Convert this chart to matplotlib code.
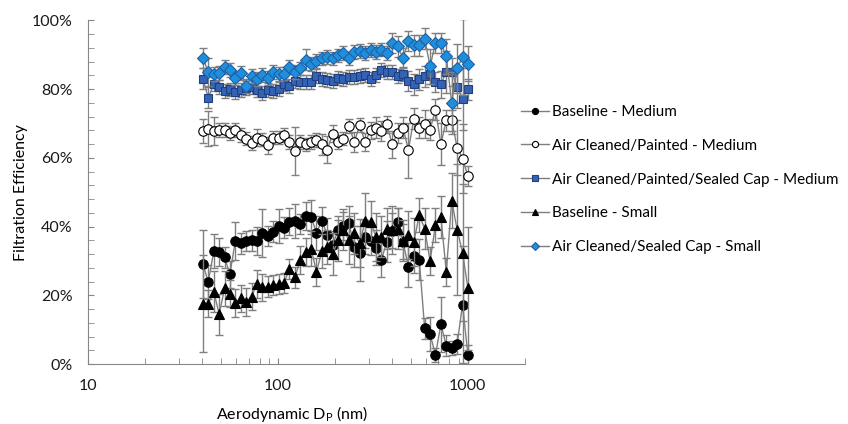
# filtration efficiency vs aerodynamic diameter, 5 test conditions

import matplotlib
matplotlib.use('Agg')
import matplotlib.pyplot as plt
from matplotlib.ticker import FixedLocator, FuncFormatter, MultipleLocator, NullFormatter

plt.rcParams['font.family'] = ['Lato', 'DejaVu Sans']

# particle size bins (nm)
dp = [40.2, 42.9, 45.9, 49.0, 52.3, 55.8, 59.6, 63.7, 68.0, 72.6,
      77.5, 82.8, 88.4, 94.4, 100.8, 107.6, 114.9, 122.7, 131.0, 139.9,
      149.4, 159.5, 170.3, 181.9, 194.2, 207.4, 221.4, 236.5, 252.5, 269.6,
      287.9, 307.4, 328.3, 350.5, 374.3, 399.7, 426.8, 455.8, 486.7, 519.7,
      555.0, 592.6, 632.8, 675.8, 721.6, 770.6, 822.9, 878.7, 938.4, 1002.0]

# efficiencies (%) and error bar half widths (%)
base_med = [29.1, 23.9, 32.8, 32.6, 31.0, 26.1, 35.8, 35.1, 35.8, 36.0,
            35.8, 38.2, 37.3, 38.5, 40.1, 39.7, 41.4, 41.7, 40.7, 43.0,
            42.8, 38.2, 41.7, 37.5, 34.6, 39.0, 40.1, 40.9, 34.1, 32.2,
            37.0, 35.8, 33.9, 30.2, 35.6, 38.8, 41.4, 35.6, 28.3, 31.4,
            30.4, 10.4, 8.7, 2.6, 11.6, 5.3, 4.6, 5.8, 17.2, 2.6]
base_med_err = [10, 5, 5, 4, 3, 4, 5.5, 3, 3, 3,
                4, 7, 3, 3, 5, 3, 4, 5, 3, 4,
                5, 5, 4, 5, 4, 4, 4, 5, 6, 8,
                5, 4, 5, 5, 6, 5, 4, 5, 6, 5,
                6, 3, 5, 2, 8, 3, 2, 3, 17, 3]

painted_med = [67.8, 68.5, 67.8, 68.2, 68.2, 67.2, 68.2, 66.6, 65.6, 64.3,
               65.8, 65.3, 63.7, 65.9, 65.9, 66.6, 64.6, 61.9, 64.6, 63.9,
               64.6, 65.1, 63.9, 62.4, 67.0, 64.6, 65.6, 69.2, 64.6, 69.5,
               64.6, 68.0, 68.8, 67.8, 69.8, 63.9, 67.2, 68.8, 62.2, 71.4,
               68.8, 69.9, 68.2, 74.0, 64.0, 70.9, 70.9, 63.0, 59.8, 54.7]
painted_med_err = [3.5, 5, 4, 2, 2, 2, 2, 2, 2, 2,
                   2.5, 2, 2.5, 2, 2, 2, 2, 7, 2, 2,
                   2, 2, 3, 4, 2.5, 2, 2, 2, 3, 2,
                   2.5, 2.5, 3, 3, 2.5, 4, 3, 3, 8, 3,
                   3, 4, 3, 3, 6, 3, 3, 8, 10, 3]

sealed_med = [83.0, 77.5, 81.5, 80.6, 79.4, 79.9, 79.1, 79.7, 80.3, 80.6,
              79.7, 78.9, 79.7, 79.4, 80.1, 81.4, 80.8, 82.3, 82.1, 82.1,
              82.1, 83.7, 83.0, 82.6, 82.3, 83.3, 83.0, 83.5, 83.5, 83.7,
              84.0, 83.0, 84.0, 85.6, 85.0, 85.0, 83.7, 84.3, 82.3, 81.4,
              82.8, 83.7, 84.5, 82.1, 81.4, 85.0, 85.0, 80.6, 77.2, 79.9]
sealed_med_err = [3, 3, 2, 2, 2, 2, 2, 2, 2, 2,
                  2, 2, 2, 2, 2, 2, 2, 2, 2, 2,
                  2, 2, 2, 2, 2, 2, 2, 2, 2, 2,
                  2, 2, 2, 2, 2, 2, 2, 2, 3, 3,
                  3, 3, 3, 3, 4, 6, 4, 6, 9, 3]

base_small = [17.6, 17.6, 21.0, 14.5, 22.0, 20.5, 17.8, 19.1, 18.1, 19.6,
              23.3, 22.3, 22.5, 23.0, 23.3, 23.6, 27.6, 25.2, 30.2, 32.6,
              33.6, 26.8, 32.8, 34.0, 32.0, 36.0, 39.1, 36.0, 38.0, 35.1,
              41.7, 41.4, 37.0, 37.0, 39.4, 39.0, 39.4, 35.9, 37.5, 35.6,
              43.3, 39.4, 30.0, 40.4, 42.8, 26.8, 47.5, 39.1, 32.4, 22.0]
base_small_err = [14, 4, 6, 6, 5, 4, 4, 4, 4, 4,
                  4, 4, 3, 3, 3, 3, 3, 3, 4, 4,
                  5, 4, 5, 5, 6, 6, 6, 7, 6, 7,
                  8, 6, 7, 6, 6, 7, 6, 6, 7, 7,
                  5, 6, 4, 5, 6, 4, 8, 19, 20, 18]

sealed_small = [89.1, 85.0, 84.3, 84.7, 86.4, 85.5, 83.3, 84.7, 80.8, 83.7,
                83.0, 84.2, 83.3, 85.0, 84.3, 84.5, 86.4, 85.0, 86.0, 88.6,
                87.4, 88.2, 88.9, 89.3, 88.9, 89.8, 90.5, 88.9, 90.8, 91.1,
                90.5, 91.3, 90.8, 91.5, 90.5, 93.4, 92.4, 89.1, 94.0, 92.7,
                92.7, 94.7, 86.6, 93.4, 93.4, 89.5, 76.0, 86.0, 89.3, 87.4]
sealed_small_err = [3, 4, 2, 2, 2, 2, 2, 2, 2, 2,
                    2, 2, 2, 2, 2, 2, 2, 2, 2, 3,
                    2, 2, 2, 2, 2, 2, 2, 2, 2, 2,
                    2, 2, 2, 2, 2, 3, 3, 3, 3, 3,
                    3, 3, 5, 3, 3, 5, 9, 7, 11, 5]

labels = ['Baseline - Medium', 'Air Cleaned/Painted - Medium',
          'Air Cleaned/Painted/Sealed Cap - Medium', 'Baseline - Small',
          'Air Cleaned/Sealed Cap - Small']

grey = '#7f7f7f'
axcol = '#868686'

fig, ax = plt.subplots(figsize=(8.48, 4.24), dpi=100)
fig.subplots_adjust(left=0.104, right=0.619, bottom=0.1415, top=0.952)

styles = [
    (base_med, base_med_err, 'o', 6.8, 'black', 'black'),
    (painted_med, painted_med_err, 'o', 6.8, 'white', 'black'),
    (sealed_med, sealed_med_err, 's', 6.2, '#3462b5', '#1f3f80'),
    (base_small, base_small_err, '^', 6.8, 'black', 'black'),
    (sealed_small, sealed_small_err, 'D', 5.8, '#1f8fdc', '#1f5fa5'),
]

for lab, (y, err, mk, ms, fc, ec) in zip(labels, styles):
    ax.errorbar(dp, y, yerr=err, fmt='none', ecolor=grey, elinewidth=1,
                capsize=3, capthick=1)
    ax.plot(dp, y, color=grey, lw=1, marker=mk, ms=ms, mfc=fc, mec=ec,
            mew=0.8, label=lab)

ax.set_xscale('log')
ax.set_xlim(10, 2000)
ax.set_ylim(0, 100)
ax.xaxis.set_major_locator(FixedLocator([10, 100, 1000]))
ax.xaxis.set_major_formatter(FuncFormatter(lambda v, p: '%g' % v))
ax.xaxis.set_minor_locator(FixedLocator([20, 30, 40, 50, 60, 70, 80, 90,
                                         200, 300, 400, 500, 600, 700, 800, 900, 2000]))
ax.xaxis.set_minor_formatter(NullFormatter())
ax.yaxis.set_major_locator(MultipleLocator(20))
ax.yaxis.set_minor_locator(MultipleLocator(4))
ax.yaxis.set_major_formatter(FuncFormatter(lambda v, p: '%d%%' % v))

ax.tick_params(which='both', direction='in', length=4, color=axcol,
               labelsize=11.5, labelcolor='#1a1a1a')
ax.tick_params(axis='y', pad=11)
ax.tick_params(axis='x', pad=11)
for s in ['top', 'right']:
    ax.spines[s].set_visible(False)
for s in ['left', 'bottom']:
    ax.spines[s].set_color(axcol)

ax.set_ylabel('Filtration Efficiency', fontsize=11.5, labelpad=3)
ax.set_xlabel(r'Aerodynamic D$_\mathregular{P}$ (nm)', fontsize=11.5)
ax.xaxis.set_label_coords(0.467, -0.115)

ax.legend(loc='upper left', bbox_to_anchor=(0.598, 0.785),
          bbox_transform=fig.transFigure, frameon=False, fontsize=11,
          markerscale=0.65, handlelength=1.85, handletextpad=0.2,
          labelspacing=1.3)

fig.savefig('out.png', dpi=100)
